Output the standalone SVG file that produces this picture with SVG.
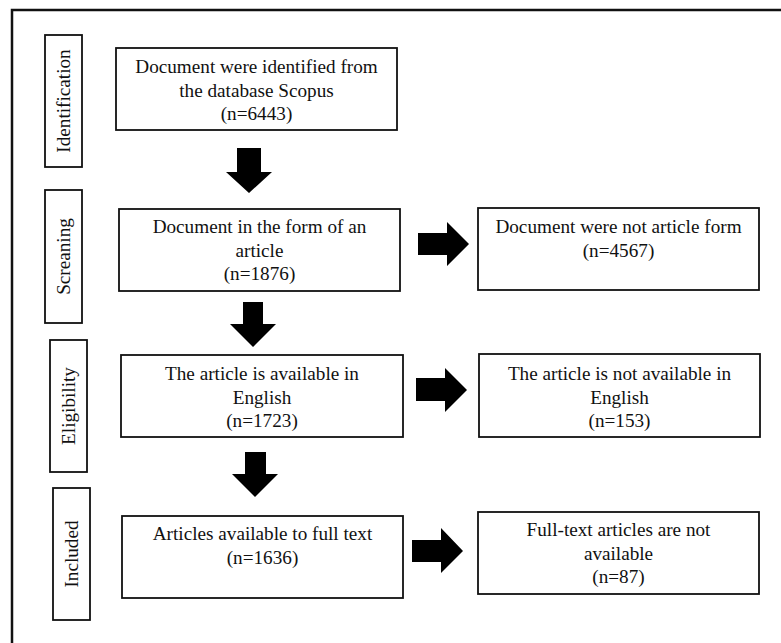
<svg xmlns="http://www.w3.org/2000/svg" width="781" height="643" viewBox="0 0 781 643">
<style>
.box{fill:none;stroke:#111;stroke-width:1.8}
.frame{fill:none;stroke:#111;stroke-width:2.5}
text{font-family:'Liberation Serif','Times New Roman',Times,serif;font-size:19.2px;fill:#111;text-anchor:middle}
.arr{fill:#000}
</style>
<rect width="781" height="643" fill="#fff"/>
<path class="frame" d="M12,645 L12,10 L783,10"/>

<g id="stage-identification">
<rect class="box" x="45" y="35" width="37" height="132"/>
<text transform="translate(63.5,101) rotate(-90)" y="6.5">Identification</text>
</g>
<g id="stage-screening">
<rect class="box" x="45" y="190" width="37" height="133"/>
<text transform="translate(63.5,256.5) rotate(-90)" y="6.5">Screaning</text>
</g>
<g id="stage-eligibility">
<rect class="box" x="50" y="340" width="37" height="132"/>
<text transform="translate(68.5,406) rotate(-90)" y="6.5">Eligibility</text>
</g>
<g id="stage-included">
<rect class="box" x="53" y="488" width="37" height="132"/>
<text transform="translate(71.5,554) rotate(-90)" y="6.5">Included</text>
</g>

<g id="identified">
<rect class="box" x="116" y="48" width="281" height="82"/>
<text x="256.5" y="73">Document were identified from</text>
<text x="256.5" y="96.5">the database Scopus</text>
<text x="256.5" y="120">(n=6443)</text>
</g>
<g id="articles">
<rect class="box" x="119" y="209" width="281" height="82"/>
<text x="259.5" y="233">Document in the form of an</text>
<text x="259.5" y="256.5">article</text>
<text x="259.5" y="280">(n=1876)</text>
</g>
<g id="english">
<rect class="box" x="121" y="355" width="282" height="82"/>
<text x="262" y="380">The article is available in</text>
<text x="262" y="403.5">English</text>
<text x="262" y="427">(n=1723)</text>
</g>
<g id="fulltext">
<rect class="box" x="122" y="516" width="281" height="82"/>
<text x="262.5" y="540">Articles available to full text</text>
<text x="262.5" y="563.5">(n=1636)</text>
</g>

<g id="not-article">
<rect class="box" x="478" y="208" width="281" height="82"/>
<text x="618.5" y="233">Document were not article form</text>
<text x="618.5" y="256.5">(n=4567)</text>
</g>
<g id="not-english">
<rect class="box" x="479" y="354" width="281" height="83"/>
<text x="619.5" y="380">The article is not available in</text>
<text x="619.5" y="403.5">English</text>
<text x="619.5" y="427">(n=153)</text>
</g>
<g id="not-fulltext">
<rect class="box" x="478" y="512" width="281" height="82"/>
<text x="618.5" y="536">Full-text articles are not</text>
<text x="618.5" y="559.5">available</text>
<text x="618.5" y="583">(n=87)</text>
</g>

<g id="connectors">
<polygon class="arr" points="237,148 261,148 261,172 272,172 249,193 226,172 237,172"/>
<polygon class="arr" points="243,302 263,302 263,324 276,324 253,347 230,324 243,324"/>
<polygon class="arr" points="245,452 266,452 266,474 278,474 255,497 232,474 245,474"/>
<polygon class="arr" points="418,233 447,233 447,222 469,244 447,266 447,255 418,255"/>
<polygon class="arr" points="416,378 445,378 445,368 467,390 445,412 445,401 416,401"/>
<polygon class="arr" points="412,540 441,540 441,528 463,551 441,573 441,562 412,562"/>
</g>
</svg>
